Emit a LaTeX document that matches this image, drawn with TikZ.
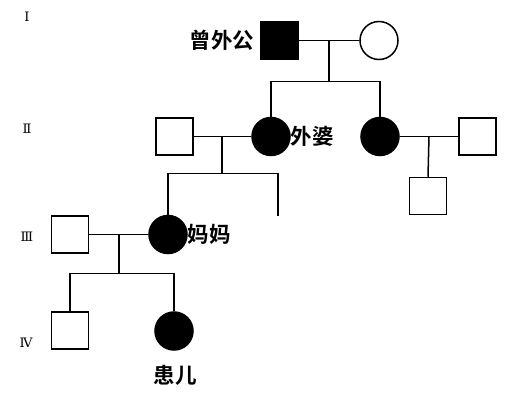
\documentclass[tikz,border=0pt]{standalone}
\usepackage{fontspec}
\newfontfamily\cjk{Noto Sans CJK SC}[BoldFont={Noto Sans CJK SC Bold}]
\newfontfamily\romanfont{DejaVu Serif}
\begin{document}
\begin{tikzpicture}[x=1pt,y=-1pt,
  line width=1.5pt,
  male/.style={draw,rectangle,minimum size=37pt,inner sep=0pt},
  female/.style={draw,circle,minimum size=38pt,inner sep=0pt},
  ill/.style={fill=black},
  lbl/.style={font=\cjk\bfseries\fontsize{21.5}{21.5}\selectfont,inner sep=0pt},
  gen/.style={font=\romanfont\fontsize{13}{13}\selectfont,inner sep=0pt}]
\useasboundingbox (0,0) rectangle (512,404);
% generation labels
\node[gen] (g1) at (27,17) {Ⅰ};
\node[gen] (g2) at (27,129) {Ⅱ};
\node[gen] (g3) at (27,237) {Ⅲ};
\node[gen] (g4) at (26,343) {Ⅳ};
% generation I
\node[male,ill] (A) at (279.5,40.5) {};
\node[female] (B) at (379,40.5) {};
% generation II
\node[male] (C) at (174.5,136.5) {};
\node[female,ill] (D) at (271,136.5) {};
\node[female,ill] (E) at (380,136.5) {};
\node[male] (F) at (477.5,136.5) {};
\node[male] (G) at (428,196) {};
% generation III
\node[male] (I) at (70,234.5) {};
\node[female,ill] (H) at (168,234.5) {};
% generation IV
\node[male] (J) at (70,330.5) {};
\node[female,ill] (K) at (174,331) {};
% labels
\node[lbl,anchor=east] (LA) at (255,40) {曾外公};
\node[lbl,anchor=west] (LD) at (290,136) {外婆};
\node[lbl,anchor=west] (LH) at (187,234) {妈妈};
\node[lbl] (LK) at (175,375) {患儿};
% coordinates
\coordinate (m1) at (329,40.5);
\coordinate (s1) at (329,81.5);
\coordinate (m2) at (222,136.5);
\coordinate (s2) at (222,173.5);
\coordinate (f1) at (278,216);
\coordinate (m3) at (119,234.5);
\coordinate (s3) at (119,273.5);
\coordinate (m4) at (429,136.5);
% connectors
\draw (A) -- (B);
\draw (m1) -- (s1);
\draw (D.north) |- (s1) -| (E.north);
\draw (C) -- (D);
\draw (m2) -- (s2);
\draw (H.north) |- (s2) -| (f1);
\draw (E) -- (F);
\draw (m4) -- (G.north);
\draw (I) -- (H);
\draw (m3) -- (s3);
\draw (J.north) |- (s3) -| (K.north);
\end{tikzpicture}
\end{document}
